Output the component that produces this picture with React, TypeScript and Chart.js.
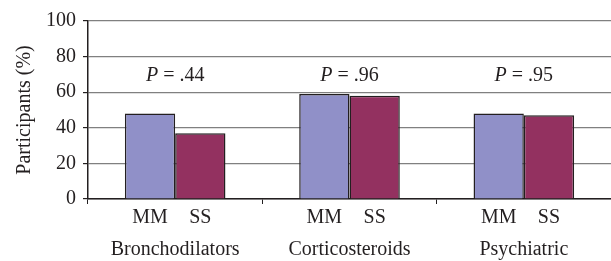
import React, { useEffect, useRef } from "react";
import { Chart, registerables } from "chart.js";
Chart.register(...registerables);

const categories = ["Bronchodilators", "Corticosteroids", "Psychiatric"];
const seriesNames = ["MM", "SS"];
const mmValues = [48, 59, 48];
const ssValues = [37, 58, 47];
const pLabels = [".44", ".96", ".95"];
const pLabelLevel = 69;
const yMin = 0;
const yMax = 100;
const yStep = 20;

const FONT = "'Liberation Serif', 'Times New Roman', serif";
const FS = 20;

const annotPlugin = {
  id: "annot",
  afterDatasetsDraw(chart: any) {
    const ctx = chart.ctx;
    const xs = chart.scales.x;
    const ys = chart.scales.y;
    ctx.save();
    ctx.fillStyle = "#231f20";
    ctx.textBaseline = "middle";
    chart.data.datasets.forEach((ds: any, di: number) => {
      const meta = chart.getDatasetMeta(di);
      meta.data.forEach((el: any) => {
        ctx.font = `${FS}px ${FONT}`;
        ctx.textAlign = "center";
        ctx.fillText(ds.label, el.x, xs.top + 19);
      });
    });
    const py = ys.getPixelForValue(pLabelLevel);
    pLabels.forEach((p, i) => {
      const cx = xs.getPixelForValue(i);
      const italic = `italic ${FS}px ${FONT}`;
      const normal = `${FS}px ${FONT}`;
      const rest = " = " + p;
      ctx.font = italic;
      const w1 = ctx.measureText("P").width;
      ctx.font = normal;
      const w2 = ctx.measureText(rest).width;
      const start = cx - (w1 + w2) / 2;
      ctx.textAlign = "left";
      ctx.font = italic;
      ctx.fillText("P", start, py);
      ctx.font = normal;
      ctx.fillText(rest, start + w1, py);
    });
    ctx.restore();
  },
};

export default function App() {
  const ref = useRef<HTMLCanvasElement>(null);
  useEffect(() => {
    document.body.style.margin = "0";
    const chart = new Chart(ref.current!, {
      type: "bar",
      data: {
        labels: categories,
        datasets: [
          {
            label: seriesNames[0],
            data: mmValues,
            backgroundColor: "#9090c8",
            borderColor: "#231f20",
            borderWidth: 1.5,
            barPercentage: 1,
            categoryPercentage: 0.577,
          },
          {
            label: seriesNames[1],
            data: ssValues,
            backgroundColor: "#933160",
            borderColor: "#231f20",
            borderWidth: 1.5,
            barPercentage: 1,
            categoryPercentage: 0.577,
          },
        ],
      },
      options: {
        animation: false,
        responsive: false,
        layout: { padding: { top: 21, right: 0, bottom: 0, left: 0 } },
        plugins: { legend: { display: false }, tooltip: { enabled: false } },
        scales: {
          x: {
            grid: {
              offset: true,
              drawOnChartArea: false,
              drawTicks: true,
              tickLength: 5,
              color: "#231f20",
            },
            border: { color: "#231f20", width: 1.5 },
            ticks: {
              color: "#231f20",
              font: { family: FONT, size: FS },
              padding: 34,
              maxRotation: 0,
            },
            afterFit(scale: any) {
              scale.height = 261 - 199;
            },
          },
          y: {
            min: yMin,
            max: yMax,
            ticks: {
              stepSize: yStep,
              color: "#231f20",
              font: { family: FONT, size: FS },
              padding: 7,
            },
            grid: { color: "#808080", lineWidth: 1.2, tickLength: 5, tickColor: "#231f20" },
            border: { color: "#231f20", width: 1.5 },
            title: {
              display: true,
              text: "Participants (%)",
              color: "#231f20",
              font: { family: FONT, size: FS },
              padding: { top: 13, bottom: 2 },
            },
            afterFit(scale: any) {
              scale.width = 88;
            },
          },
        },
      },
      plugins: [annotPlugin],
    });
    return () => chart.destroy();
  }, []);
  return (
    <div style={{ position: "absolute", left: 0, top: 0, width: 611, height: 261 }}>
      <canvas ref={ref} width={611} height={261} />
    </div>
  );
}
